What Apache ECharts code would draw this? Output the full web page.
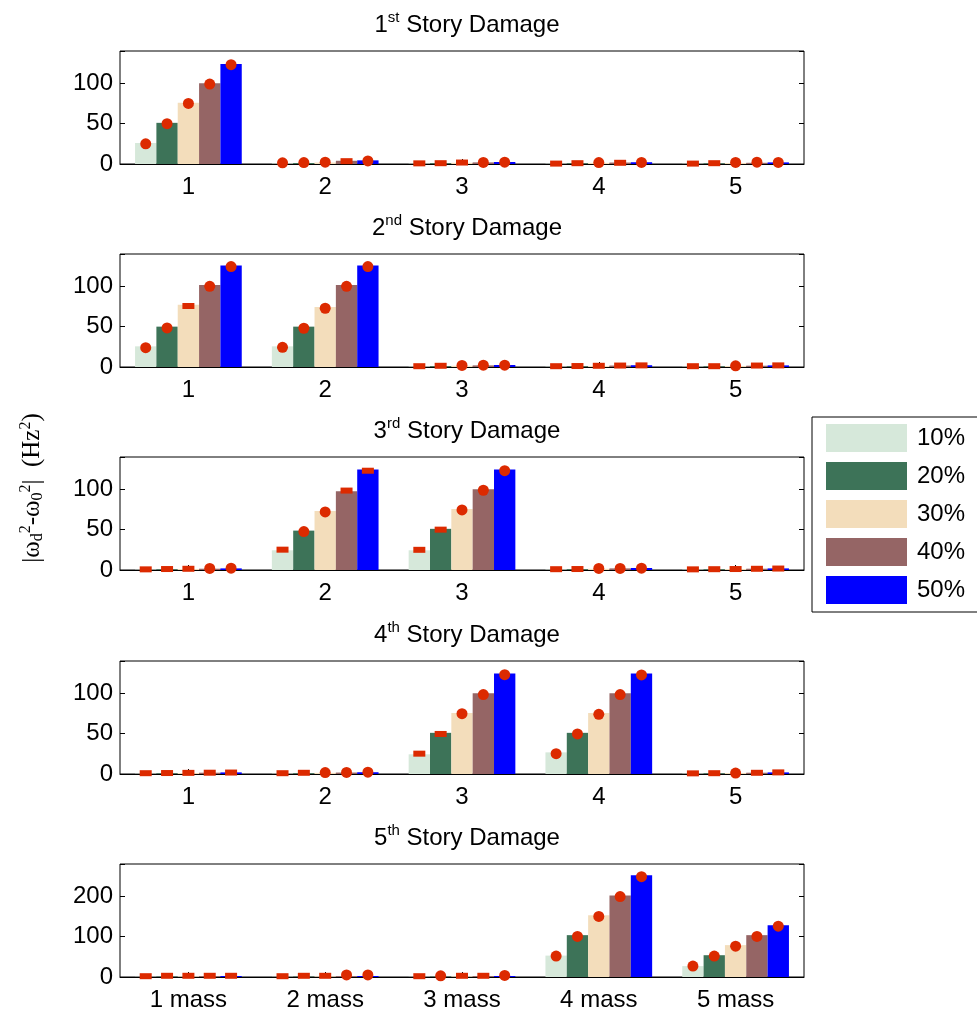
<!DOCTYPE html>
<html>
<head>
<meta charset="utf-8">
<script src="https://cdn.jsdelivr.net/npm/echarts@6/dist/echarts.min.js"></script>
<style>
  html, body { margin: 0; padding: 0; background: #fff; }
  #chart { width: 977px; height: 1015px; }
</style>
</head>
<body>
<div id="chart"></div>
<script>
// damage levels (legend) and x categories
const levels = ["10%", "20%", "30%", "40%", "50%"];
const numLabels = ["1", "2", "3", "4", "5"];
const massLabels = ["1 mass", "2 mass", "3 mass", "4 mass", "5 mass"];
const titles = ["1{s|st} Story Damage", "2{s|nd} Story Damage", "3{s|rd} Story Damage",
  "4{s|th} Story Damage", "5{s|th} Story Damage"];
const yMax = [140, 140, 140, 140, 280];
const yStep = [50, 50, 50, 50, 100];

// bar heights, rows = damage level 10..50%, cols = mass 1..5
const bars1 = [
  [26, 0.6, 0.4, 0.4, 0.3],
  [51, 1.2, 1.0, 0.9, 0.8],
  [76, 1.8, 1.5, 1.4, 1.2],
  [100, 4.0, 2.0, 1.8, 1.5],
  [124, 4.5, 2.5, 2.2, 2.0]
];
const bars2 = [
  [25.6, 25.6, 0.5, 0.4, 0.4],
  [50, 50, 1.0, 0.9, 0.8],
  [77, 74.4, 1.5, 1.3, 1.2],
  [101.6, 101.6, 2.0, 1.8, 1.6],
  [125.6, 125.6, 2.5, 2.2, 2.0]
];
const bars3 = [
  [0.4, 24.4, 24.4, 0.5, 0.4],
  [0.8, 48.8, 51, 1.0, 0.8],
  [1.2, 73, 75.6, 1.5, 1.2],
  [1.6, 97.6, 100, 2.0, 1.6],
  [2.0, 124.4, 124.4, 2.5, 2.0]
];
const bars4 = [
  [0.4, 0.4, 24.4, 26.8, 0.4],
  [0.8, 0.9, 51, 51, 0.8],
  [1.2, 1.4, 75.6, 75.6, 1.2],
  [1.6, 1.8, 100, 100, 1.6],
  [2.0, 2.2, 124.4, 124.4, 2.0]
];
const bars5 = [
  [0.5, 0.5, 0.5, 53, 27],
  [1, 1, 1, 103.7, 54],
  [1.5, 1.5, 1.5, 153, 79],
  [2, 2, 2, 202, 103.7],
  [2.5, 2.5, 2.5, 252, 128]
];

// red markers (identified values), same layout as bars
const marks1 = [
  [25, 1.5, 0.8, 0.5, 0.5],
  [50, 1.8, 1.0, 1.0, 1.0],
  [75, 2.2, 1.8, 1.8, 2.0],
  [99, 3.5, 2.0, 1.5, 2.2],
  [123, 3.8, 2.2, 2.0, 2.0]
];
const marks2 = [
  [24, 24.4, 1, 1, 1],
  [48.4, 48, 1.5, 1.2, 1.0],
  [75.6, 72.8, 2.0, 1.5, 1.5],
  [100, 100, 2.2, 1.8, 1.8],
  [124.4, 124.4, 2.2, 2.0, 2.0]
];
const marks3 = [
  [0.8, 25.2, 25, 1, 0.8],
  [1.2, 47.6, 50, 1.2, 1.0],
  [1.5, 72, 74.4, 2.0, 1.2],
  [2.0, 98.4, 98.8, 2.0, 1.5],
  [2.2, 123, 123, 2.2, 1.8]
];
const marks4 = [
  [1, 1, 25.2, 25.2, 0.8],
  [1.2, 1.5, 49.6, 49.6, 1.0],
  [1.4, 1.8, 74.8, 74, 1.2],
  [1.6, 2.0, 98.4, 98.4, 1.5],
  [1.8, 2.2, 123, 122.8, 2.0]
];
const marks5 = [
  [2, 2, 2, 51.8, 27],
  [3, 3, 3, 100.5, 52],
  [3, 3, 3, 150, 76.5],
  [3, 5, 3, 199.3, 100.5],
  [3, 5, 4, 248.6, 125.9]
];
// marker kind per mass group (one char per level): o = dot, - = dash
const kinds1 = ["ooooo", "ooo-o", "---oo", "--o-o", "--ooo"];
const kinds2 = ["oo-oo", "ooooo", "--ooo", "-----", "--o--"];
const kinds3 = ["---oo", "-oo--", "--ooo", "--ooo", "-----"];
const kinds4 = ["-----", "--ooo", "--ooo", "ooooo", "--o--"];
const kinds5 = ["-----", "---oo", "-o--o", "ooooo", "ooooo"];

const allBars = [bars1, bars2, bars3, bars4, bars5];
const allMarks = [marks1, marks2, marks3, marks4, marks5];
const allKinds = [kinds1, kinds2, kinds3, kinds4, kinds5];

const colors = ["#d6e8da", "#3d7358", "#f3ddbb", "#956565", "#0000ff"];
const gridTops = [51, 254, 457, 661, 864];
const gridH = 113, gridLeft = 120, gridW = 684;
const font = "Arial, 'Liberation Sans', sans-serif";
const serif = "'Liberation Serif', 'Times New Roman', serif";

var chart = echarts.init(document.getElementById("chart"));

let grids = [], xAxes = [], yAxes = [], series = [], titleList = [];
for (let p = 0; p < 5; p++) {
  grids.push({
    left: gridLeft, top: gridTops[p], width: gridW, height: gridH,
    show: true, borderColor: "#000", borderWidth: 1, backgroundColor: "transparent"
  });
  titleList.push({
    text: titles[p],
    left: gridLeft + gridW / 2,
    textAlign: "center",
    top: gridTops[p] - 46,
    textStyle: {
      fontFamily: font, fontSize: 24, fontWeight: "normal", color: "#000", lineHeight: 30,
      rich: { s: { fontFamily: font, fontSize: 15, color: "#000", verticalAlign: "top", lineHeight: 16 } }
    }
  });
  xAxes.push({
    type: "category", gridIndex: p,
    data: p === 4 ? massLabels : numLabels,
    axisLine: { show: true, lineStyle: { color: "#000", width: 1 } },
    axisTick: { show: true, inside: true, alignWithLabel: true, length: 5, lineStyle: { color: "#000" } },
    axisLabel: { fontFamily: font, fontSize: 24, color: "#000", margin: 11 },
    splitLine: { show: false }
  });
  const step = yStep[p];
  const yBase = {
    type: "value", gridIndex: p, min: 0, max: yMax[p], interval: step,
    axisLine: { show: false },
    axisTick: { show: true, inside: true, length: 5, lineStyle: { color: "#000" } },
    splitLine: { show: false }
  };
  yAxes.push(Object.assign({}, yBase, {
    position: "left",
    axisLabel: {
      fontFamily: font, fontSize: 24, color: "#000", margin: 7,
      formatter: v => (v % step === 0 ? String(v) : "")
    }
  }));
  yAxes.push(Object.assign({}, yBase, { position: "right", axisLabel: { show: false } }));

  for (let k = 0; k < 5; k++) {
    series.push({
      name: levels[k], type: "bar", xAxisIndex: p, yAxisIndex: 2 * p,
      barGap: "0%", barCategoryGap: "22%",
      itemStyle: { color: colors[k] },
      data: allBars[p][k]
    });
  }
  for (let k = 0; k < 5; k++) {
    const pts = allMarks[p][k].map((v, i) => {
      const dot = allKinds[p][i][k] === "o";
      return { value: v, symbol: dot ? "circle" : "rect", symbolSize: dot ? [11, 11] : [12, 6] };
    });
    series.push({
      name: "marker" + k, type: "pictorialBar", xAxisIndex: p, yAxisIndex: 2 * p,
      barGap: "0%", barCategoryGap: "22%",
      symbolPosition: "end", symbolOffset: [0, "-50%"],
      itemStyle: { color: "#dc2a00" }, z: 5,
      data: pts
    });
  }
}

var option = {
  animation: false,
  backgroundColor: "#fff",
  title: titleList,
  legend: {
    data: levels, orient: "vertical", left: 812, top: 417,
    icon: "rect", itemWidth: 81, itemHeight: 28, itemGap: 10,
    padding: [7, 40, 8, 14],
    borderColor: "#000", borderWidth: 1, backgroundColor: "#fff",
    textStyle: { fontFamily: font, fontSize: 24, color: "#000", padding: [0, 0, 0, 5] }
  },
  grid: grids,
  xAxis: xAxes,
  yAxis: yAxes,
  graphic: [{
    type: "text", x: 32, y: 488, rotation: Math.PI / 2,
    style: {
      text: "|ω{sb|d}{sp|2}-ω{sb|0}{sp|2}|  (Hz{sp|2})",
      fontFamily: serif, fontSize: 25, fill: "#000", lineHeight: 28,
      align: "center", verticalAlign: "middle",
      rich: {
        sb: { fontFamily: serif, fontSize: 16, fill: "#000", verticalAlign: "bottom", lineHeight: 14 },
        sp: { fontFamily: serif, fontSize: 16, fill: "#000", verticalAlign: "top", lineHeight: 14 }
      }
    }
  }],
  series: series
};

option && chart.setOption(option);
</script>
</body>
</html>
